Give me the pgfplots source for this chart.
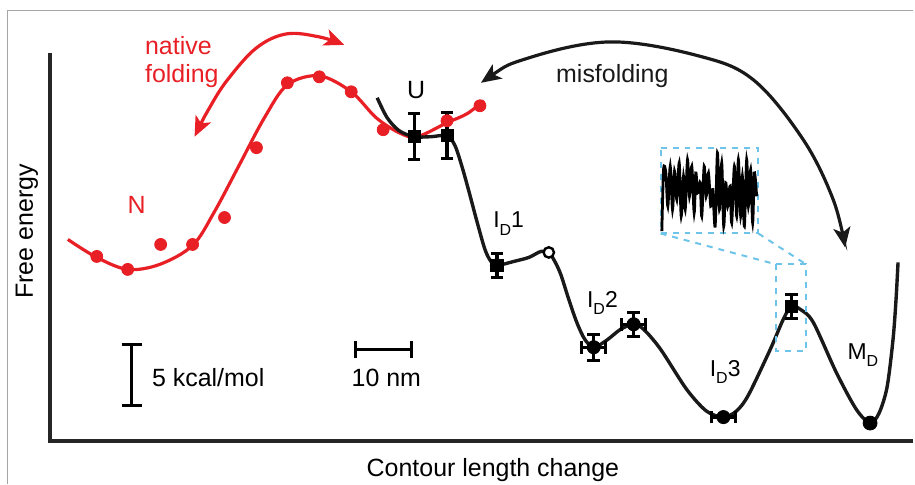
\documentclass[border=0pt]{standalone}
\usepackage{pgfplots}
\pgfplotsset{compat=1.18}
\usetikzlibrary{arrows.meta}
\usepackage{fontspec}
\setmainfont{Liberation Sans}

\definecolor{fred}{RGB}{232,32,38}
\definecolor{insetblue}{RGB}{110,196,232}
\definecolor{framegray}{RGB}{165,165,165}

\newcommand{\sub}[1]{\raisebox{-0.33em}{\fontsize{8}{8}\selectfont #1}}
\tikzset{lbl/.style={font=\fontsize{12.5}{15}\selectfont, inner sep=0pt},
         slbl/.style={font=\fontsize{11.5}{14}\selectfont, inner sep=0pt}}

\begin{document}
\begin{tikzpicture}
\begin{axis}[
    x=0.5pt, y=0.5pt, y dir=reverse,
    xmin=0, xmax=915, ymin=0, ymax=485,
    hide axis, clip=false,
  ]
  % page extent and frame
  \addplot[draw=none, forget plot] coordinates {(0,0) (915,485)};
  \addplot[framegray, line width=0.5pt] coordinates {(8,485) (8,11) (915,11)};
  % axes
  \addplot[black!85, line width=2pt] coordinates {(50,53) (50,442) (915,442)};

  % native folding landscape
  \addplot[fred, line width=1.6pt, smooth, tension=0.55] coordinates {
    (68,240) (97,258) (128,270) (160,265) (193,246) (215,212) (240,165)
    (265,118) (288,85) (320,76) (352,92) (377,118) (400,133) (418,137)
    (448,123) (468,114) (485,101)};
  \addplot[fred, only marks, mark=*, mark size=3pt] coordinates {
    (97,257) (128,270) (161,245) (193,245) (225,218) (257,148) (288,83)
    (320,77) (352,92) (384,130) (448,121) (481,106)};

  % misfolding landscape
  \addplot[black!90, line width=1.7pt, smooth, tension=0.5] coordinates {
    (378,98) (388,118) (400,131) (415,137) (432,137) (448,136) (456,146)
    (463,167) (470,192) (478,222) (486,250) (492,262) (498,266) (515,262)
    (530,258) (542,252) (550,253) (556,262) (562,275) (570,300) (578,323)
    (586,340) (595,348) (608,341) (622,330) (635,325) (645,330) (662,350)
    (688,390) (708,412) (725,418) (738,412) (750,396) (772,350) (785,320)
    (793,307) (802,310) (815,323) (838,373) (858,410) (872,424) (881,414)
    (889,388) (895,340) (898,300) (900,263)};

  % states with error bars
  \addplot[black, only marks, mark=square*, mark size=3pt,
    error bars/.cd, x dir=both, x explicit, y dir=both, y explicit,
    error bar style={line width=1.6pt},
    error mark options={rotate=90, line width=1.6pt, mark size=3.2pt}]
    coordinates {(415,137) +- (0,23) (448,136) +- (0,23) (793,307) +- (0,12)};
  \addplot[black, only marks, mark=*, mark size=3.3pt,
    error bars/.cd, x dir=both, x explicit, y dir=both, y explicit,
    error bar style={line width=1.6pt},
    error mark options={rotate=90, line width=1.6pt, mark size=3.2pt}]
    coordinates {(498,266) +- (5,12) (595,348) +- (12,13) (635,325) +- (12,12)
                 (725,418) +- (12,0)};
  \addplot[black, only marks, mark=*, mark size=3.5pt] coordinates {(872,424)};
  \addplot[black, only marks, mark=*, mark size=2.6pt,
    mark options={fill=white, line width=1.2pt}] coordinates {(550,253)};

  % arrows
  \addplot[fred, line width=1.6pt, smooth, tension=0.6,
    {Stealth[length=10pt,width=8.5pt,inset=2.5pt]}-{Stealth[length=10pt,width=8.5pt,inset=2.5pt]}]
    coordinates {(195,137) (210,108) (228,80) (257,48) (287,34) (320,37) (345,45)};
  \addplot[black!90, line width=1.6pt, smooth, tension=0.6,
    {Stealth[length=10pt,width=8.5pt,inset=2.5pt]}-{Stealth[length=10pt,width=8.5pt,inset=2.5pt]}]
    coordinates {(482,83) (530,58) (612,42) (700,56) (755,80) (805,140)
                 (835,200) (847,248)};

  % inset
  \addplot[insetblue, line width=1pt, dashed] coordinates {
    (662,148) (760,148) (760,234) (662,234) (662,148)};
  \addplot[insetblue, line width=1pt, dashed] coordinates {
    (778,265) (808,265) (808,352) (778,352) (778,265)};
  \addplot[insetblue, line width=1pt, dashed] coordinates {(662,234) (778,265)};
  \addplot[insetblue, line width=1pt, dashed] coordinates {(760,234) (808,265)};
  \addplot[black, line width=1.4pt, smooth, tension=0.5] coordinates {
    (663.3,231.7) (665,170) (667.3,173.3) (669.3,206.7) (671.7,166.7) (674,210)
    (676,171.7) (678.3,200) (680.7,163.3) (682.7,216.7) (685,176.7) (686.7,210)
    (689,160) (691,196.7) (693.3,166.7) (695.7,213.3) (697.3,173.3) (699.3,193.3)
    (701.7,183.3) (703.3,216.7) (705.7,166.7) (707.7,196.7) (710,173.3)
    (712.3,206.7) (714.3,190) (716.7,226.7) (719,153.3) (721,210) (723.3,163.3)
    (725.3,226.7) (727.3,183.3) (729.3,206.7) (731.7,186.7) (733.3,223.3)
    (736,166.7) (738.3,216.7) (740,160) (742.3,216.7) (744,176.7) (746,226.7)
    (748.3,160) (750,206.7) (752.3,170) (754.3,223.3) (756,173.3) (758.3,196.7)};

  % scale bars
  \addplot[black, line width=1.5pt, mark=none,
    error bars/.cd, y dir=both, y explicit,
    error bar style={line width=1.6pt},
    error mark options={rotate=90, line width=1.6pt, mark size=5pt}]
    coordinates {(132,375.5) +- (0,30.5)};
  \addplot[black, line width=1.5pt, mark=none,
    error bars/.cd, x dir=both, x explicit,
    error bar style={line width=1.6pt},
    error mark options={rotate=90, line width=1.6pt, mark size=4.3pt}]
    coordinates {(384,350.5) +- (28,0)};

  % labels
  \node[lbl, fred, anchor=base west] at (axis cs:145,55) {native};
  \node[lbl, fred, anchor=base west] at (axis cs:145,83) {folding};
  \node[lbl, fred] at (axis cs:137,205) {N};
  \node[lbl] at (axis cs:417,90) {U};
  \node[lbl, black!90, anchor=base west] at (axis cs:557,83) {misfolding};
  \node[slbl, anchor=base west] at (axis cs:494,228) {I\sub{D}1};
  \node[slbl, anchor=base west] at (axis cs:588,308) {I\sub{D}2};
  \node[slbl, anchor=base west] at (axis cs:711,377) {I\sub{D}3};
  \node[slbl, anchor=base west] at (axis cs:849,360) {M\sub{D}};
  \node[lbl, anchor=base west] at (axis cs:152,387) {5 kcal/mol};
  \node[lbl, anchor=base west] at (axis cs:352,387) {10 nm};
  \node[lbl, anchor=base] at (axis cs:494,478) {Contour length change};
  \node[lbl, rotate=90] at (axis cs:27,232) {Free energy};
\end{axis}
\end{tikzpicture}
\end{document}
